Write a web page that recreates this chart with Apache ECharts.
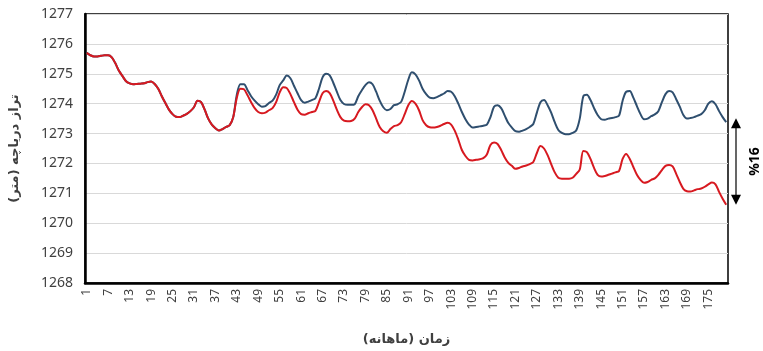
<!DOCTYPE html>
<html>
<head>
<meta charset="utf-8">
<script src="https://cdn.jsdelivr.net/npm/echarts@6/dist/echarts.min.js"></script>
<style>html,body{margin:0;padding:0;background:#fff}#c{width:763px;height:351px}</style>
</head>
<body>
<div id="c"></div>
<script>
var months = [];
for (var i = 1; i <= 180; i++) months.push(String(i));

var commonStart = [1275.70,1275.62,1275.58,1275.58,1275.60,1275.62,1275.62,1275.55,1275.35,1275.10,
1274.92,1274.75,1274.68,1274.65,1274.66,1274.67,1274.68,1274.72,1274.74,1274.66,
1274.50,1274.25,1274.02,1273.80,1273.65,1273.56,1273.55,1273.60,1273.66,1273.75,
1273.88,1274.10,1274.05,1273.80,1273.50,1273.30,1273.18,1273.10,1273.15,1273.22,
1273.28,1273.55];

var blueRest = [1274.30,1274.65,1274.65,1274.45,1274.25,1274.10,1273.98,1273.90,1273.92,1274.02,
1274.10,1274.30,1274.62,1274.78,1274.94,1274.85,1274.60,1274.35,1274.12,1274.03,
1274.07,1274.12,1274.18,1274.50,1274.88,1275.00,1274.95,1274.70,1274.40,1274.12,
1273.99,1273.96,1273.96,1273.98,1274.25,1274.45,1274.62,1274.72,1274.65,1274.40,
1274.10,1273.88,1273.78,1273.82,1273.95,1273.98,1274.06,1274.40,1274.80,1275.05,
1274.98,1274.78,1274.50,1274.32,1274.20,1274.18,1274.22,1274.28,1274.34,1274.42,
1274.40,1274.25,1274.00,1273.72,1273.48,1273.30,1273.20,1273.22,1273.24,1273.26,
1273.30,1273.55,1273.90,1273.95,1273.85,1273.60,1273.35,1273.20,1273.08,1273.06,
1273.10,1273.15,1273.22,1273.32,1273.70,1274.05,1274.12,1273.95,1273.70,1273.38,
1273.12,1273.02,1272.98,1272.98,1273.02,1273.10,1273.50,1274.25,1274.30,1274.12,
1273.85,1273.62,1273.48,1273.46,1273.50,1273.52,1273.55,1273.60,1274.10,1274.40,
1274.42,1274.20,1273.92,1273.65,1273.48,1273.50,1273.58,1273.64,1273.75,1274.05,
1274.32,1274.42,1274.38,1274.15,1273.90,1273.62,1273.50,1273.52,1273.55,1273.60,
1273.65,1273.78,1274.00,1274.08,1273.98,1273.75,1273.55,1273.38];

var redRest = [1274.20,1274.50,1274.48,1274.28,1274.05,1273.85,1273.72,1273.68,1273.70,1273.78,
1273.85,1274.05,1274.38,1274.55,1274.52,1274.32,1274.05,1273.80,1273.65,1273.63,
1273.68,1273.72,1273.76,1274.05,1274.35,1274.42,1274.35,1274.10,1273.80,1273.55,
1273.43,1273.41,1273.42,1273.50,1273.72,1273.88,1273.98,1273.95,1273.78,1273.50,
1273.22,1273.08,1273.03,1273.15,1273.25,1273.28,1273.38,1273.65,1273.95,1274.09,
1274.00,1273.78,1273.45,1273.28,1273.21,1273.20,1273.22,1273.26,1273.32,1273.36,
1273.30,1273.10,1272.80,1272.45,1272.25,1272.12,1272.10,1272.12,1272.14,1272.18,
1272.30,1272.62,1272.70,1272.65,1272.45,1272.20,1272.02,1271.92,1271.82,1271.85,
1271.90,1271.93,1271.98,1272.05,1272.35,1272.58,1272.50,1272.28,1271.98,1271.70,
1271.52,1271.49,1271.49,1271.49,1271.52,1271.65,1271.80,1272.42,1272.38,1272.15,
1271.85,1271.62,1271.56,1271.58,1271.62,1271.66,1271.70,1271.75,1272.15,1272.32,
1272.15,1271.88,1271.62,1271.45,1271.35,1271.38,1271.45,1271.50,1271.62,1271.78,
1271.92,1271.95,1271.90,1271.65,1271.38,1271.15,1271.07,1271.06,1271.10,1271.14,
1271.16,1271.22,1271.30,1271.36,1271.30,1271.05,1270.82,1270.62];

var blueSeries = commonStart.concat(blueRest);
var redSeries = commonStart.concat(redRest);

var yMin = 1268, yMax = 1277, yStep = 1;
var xAxisTitle = 'زمان (ماهانه)';
var yAxisTitle = 'تراز دریاچه (متر)';
var changeLabel = '%16';

var FONT = '"Noto Sans", "DejaVu Sans", sans-serif';
var AFONT = '"DejaVu Sans", sans-serif';
var chart = echarts.init(document.getElementById('c'));
chart.setOption({
  animation: false,
  backgroundColor: '#ffffff',
  grid: { left: 85, right: 35, top: 14, bottom: 63, show: true, borderColor: '#000', borderWidth: 1.5, backgroundColor: 'transparent' },
  xAxis: {
    type: 'category',
    data: months,
    boundaryGap: true,
    name: xAxisTitle,
    nameLocation: 'middle',
    nameGap: 50,
    nameTextStyle: { fontFamily: AFONT, fontSize: 13, fontWeight: 'bold', color: '#404040' },
    axisLine: { lineStyle: { color: '#000', width: 2.5 } },
    axisTick: { show: false },
    axisLabel: {
      rotate: 90,
      interval: function (idx) { return idx % 6 === 0; },
      fontFamily: FONT, fontSize: 12, color: '#404040', margin: 6
    },
    splitLine: { show: false }
  },
  yAxis: {
    type: 'value',
    min: yMin, max: yMax, interval: yStep,
    name: yAxisTitle,
    nameLocation: 'middle',
    nameRotate: 90,
    nameGap: 64,
    nameTextStyle: { fontFamily: AFONT, fontSize: 13, fontWeight: 'bold', color: '#404040' },
    axisLine: { show: true, lineStyle: { color: '#000', width: 2.5 } },
    axisTick: { show: false },
    axisLabel: { fontFamily: FONT, fontSize: 14, color: '#404040', margin: 12,
      formatter: function (v) { return String(v); } },
    splitLine: { lineStyle: { color: '#d9d9d9', width: 1 } }
  },
  series: [
    { name: 'blue', type: 'line', data: blueSeries, smooth: 0.3, showSymbol: false,
      lineStyle: { color: '#2f4f6f', width: 2 }, itemStyle: { color: '#2f4f6f' } },
    { name: 'red', type: 'line', data: redSeries, smooth: 0.3, showSymbol: false,
      lineStyle: { color: '#d71920', width: 2 }, itemStyle: { color: '#d71920' } }
  ]
});

// Arrow annotation spanning the final gap between the two series
var last = months[months.length - 1];
var pTop = chart.convertToPixel({ gridIndex: 0 }, [last, blueSeries[blueSeries.length - 1]]);
var pBot = chart.convertToPixel({ gridIndex: 0 }, [last, redSeries[redSeries.length - 1]]);
var ax = 736;
var yTop = pTop[1] - 4, yBot = pBot[1];
chart.setOption({
  graphic: [
    { type: 'line', shape: { x1: ax, y1: yTop + 8, x2: ax, y2: yBot - 8 }, style: { stroke: '#000', lineWidth: 1.2 } },
    { type: 'polygon', shape: { points: [[ax, yTop], [ax - 5, yTop + 10], [ax + 5, yTop + 10]] }, style: { fill: '#000' } },
    { type: 'polygon', shape: { points: [[ax, yBot], [ax - 5, yBot - 10], [ax + 5, yBot - 10]] }, style: { fill: '#000' } },
    { type: 'text', x: 755, y: (yTop + yBot) / 2, rotation: Math.PI / 2,
      style: { text: changeLabel, fontFamily: FONT, fontSize: 14, fontWeight: 'bold', fill: '#000', align: 'center', verticalAlign: 'middle' } }
  ]
});
</script>
</body>
</html>
